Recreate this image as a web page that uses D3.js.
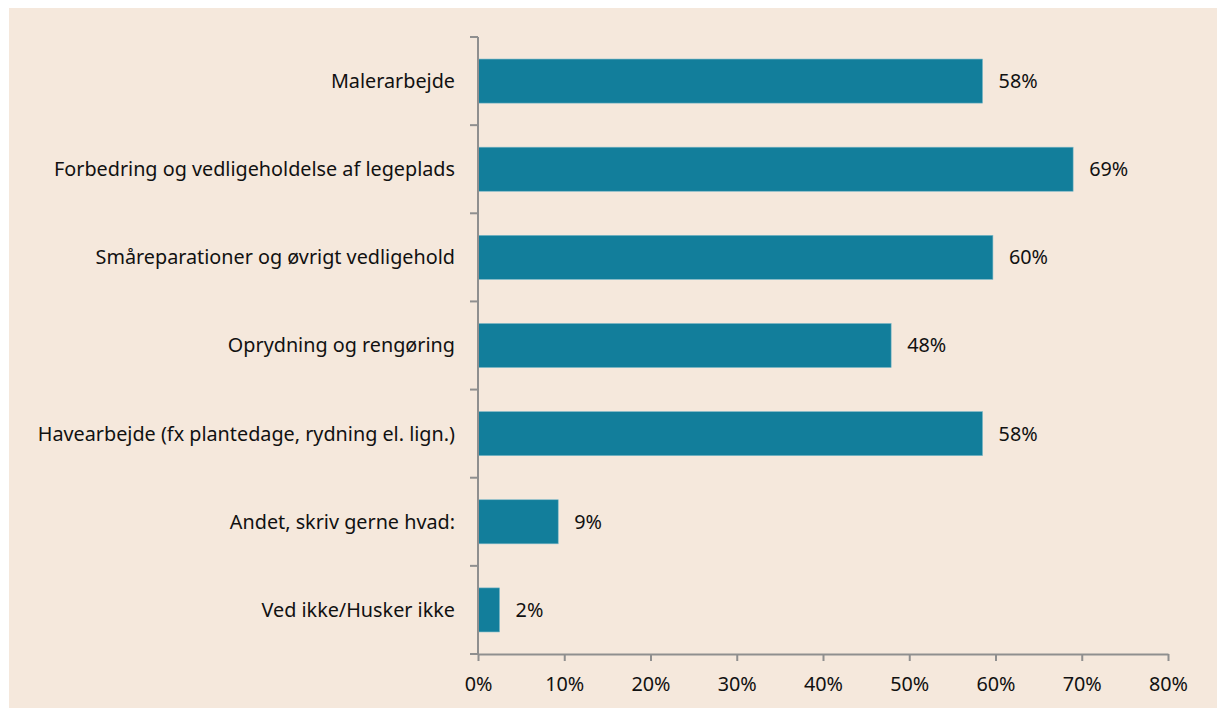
<!DOCTYPE html>
<html>
<head>
<meta charset="utf-8">
<script src="https://cdn.jsdelivr.net/npm/d3@7"></script>
<style>
  body { margin: 0; background: #ffffff; }
  svg text { font-family: "Noto Sans", "Open Sans", sans-serif; fill: #111111; }
</style>
</head>
<body>
<div id="chart"></div>
<script>
// categories, top to bottom
var categories = [
  "Malerarbejde",
  "Forbedring og vedligeholdelse af legeplads",
  "Småreparationer og øvrigt vedligehold",
  "Oprydning og rengøring",
  "Havearbejde (fx plantedage, rydning el. lign.)",
  "Andet, skriv gerne hvad:",
  "Ved ikke/Husker ikke"
];
// share of respondents (%)
var values = [58.5, 69.0, 59.7, 47.9, 58.5, 9.3, 2.5];
var valueLabels = ["58%", "69%", "60%", "48%", "58%", "9%", "2%"];
var xTicks = [0, 10, 20, 30, 40, 50, 60, 70, 80];

var width = 1217, height = 708;
var margin = {left: 478, right: 49, top: 37, bottom: 54};
var fontSize = "19.8px";

var svg = d3.select("#chart")
  .append("svg")
  .attr("width", width)
  .attr("height", height);

// panel background
svg.append("rect")
  .attr("x", 9).attr("y", 8)
  .attr("width", width - 9).attr("height", height - 8)
  .attr("fill", "#f5e8dc");

var xScale = d3.scaleLinear()
  .domain([0, 80])
  .range([margin.left, width - margin.right]);

var yScale = d3.scaleBand()
  .domain(categories)
  .range([margin.top, height - margin.bottom])
  .paddingInner(0.5)
  .paddingOuter(0.25);

// bars
svg.selectAll(".bar")
  .data(values)
  .enter()
  .append("rect")
    .attr("class", "bar")
    .attr("x", xScale(0))
    .attr("y", function(d, i){ return yScale(categories[i]); })
    .attr("width", function(d){ return xScale(d) - xScale(0); })
    .attr("height", yScale.bandwidth())
    .attr("fill", "#127e9b")
    .attr("stroke", "#7fb9c9")
    .attr("stroke-width", 0.6);

// value labels
svg.selectAll(".vlabel")
  .data(values)
  .enter()
  .append("text")
    .attr("class", "vlabel")
    .attr("x", function(d){ return xScale(d) + 16; })
    .attr("y", function(d, i){ return yScale(categories[i]) + yScale.bandwidth()/2; })
    .attr("dy", "0.35em")
    .style("font-size", fontSize)
    .text(function(d, i){ return valueLabels[i]; });

// category labels
svg.selectAll(".clabel")
  .data(categories)
  .enter()
  .append("text")
    .attr("class", "clabel")
    .attr("x", margin.left - 23)
    .attr("y", function(d){ return yScale(d) + yScale.bandwidth()/2; })
    .attr("dy", "0.35em")
    .attr("text-anchor", "end")
    .style("font-size", fontSize)
    .text(function(d){ return d; });

var axisColor = "#8f8f8f";

// y axis line with ticks at category boundaries
var yTop = margin.top, yBottom = height - margin.bottom;
svg.append("line")
  .attr("x1", margin.left).attr("x2", margin.left)
  .attr("y1", yTop).attr("y2", yBottom)
  .attr("stroke", axisColor).attr("stroke-width", 2);
var bounds = d3.range(categories.length + 1).map(function(i){
  return yTop + (yBottom - yTop) * i / categories.length;
});
svg.selectAll(".ytick")
  .data(bounds)
  .enter()
  .append("line")
    .attr("x1", margin.left - 8).attr("x2", margin.left)
    .attr("y1", function(d){ return d; }).attr("y2", function(d){ return d; })
    .attr("stroke", axisColor).attr("stroke-width", 2);

// x axis
var xAxis = d3.axisBottom(xScale)
  .tickValues(xTicks)
  .tickFormat(function(d){ return d + "%"; })
  .tickSize(7)
  .tickSizeOuter(0)
  .tickPadding(16);

var gx = svg.append("g")
  .attr("transform", "translate(0," + yBottom + ")")
  .call(xAxis);
gx.select(".domain").attr("stroke", axisColor).attr("stroke-width", 2);
gx.selectAll(".tick line").attr("stroke", axisColor).attr("stroke-width", 2);
gx.selectAll(".tick text")
  .style("font-size", fontSize)
  .style("font-family", "'Noto Sans', 'Open Sans', sans-serif")
  .attr("fill", "#111111");
</script>
</body>
</html>
